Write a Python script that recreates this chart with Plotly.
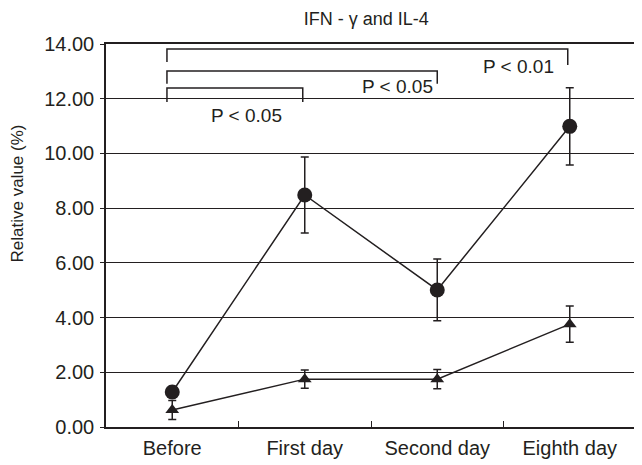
import plotly.graph_objects as go

categories = ["Before", "First day", "Second day", "Eighth day"]
ifn_values = [1.28, 8.48, 5.01, 10.99]
ifn_errors = [0.2, 1.39, 1.13, 1.41]
il4_values = [0.62, 1.75, 1.75, 3.76]
il4_errors = [0.35, 0.33, 0.35, 0.66]
y_ticks = [0, 2, 4, 6, 8, 10, 12, 14]

# significance brackets
bracket_x0 = [-0.04, -0.04, -0.04]
bracket_x1 = [2.985, 2.0, 0.985]
bracket_top = [13.82, 13.01, 12.39]
bracket_leg_left = [13.34, 12.55, 11.88]
bracket_leg_right = [13.23, 12.55, 11.88]
bracket_labels = ["P<0.01", "P<0.05", "P<0.05"]
label_x = [2.61, 1.70, 0.56]
label_y = [13.19, 12.46, 11.37]

ink = "#231f20"
FONT = "Liberation Sans, Arial, sans-serif"
x_idx = list(range(len(categories)))

fig = go.Figure()
fig.add_trace(go.Scatter(
    x=x_idx, y=ifn_values, mode="lines+markers",
    line=dict(color=ink, width=1.5),
    marker=dict(symbol="circle", size=15, color=ink),
    error_y=dict(type="data", array=ifn_errors, color=ink, thickness=1.5, width=4),
    showlegend=False))
fig.add_trace(go.Scatter(
    x=x_idx, y=il4_values, mode="lines+markers",
    line=dict(color=ink, width=1.5),
    marker=dict(symbol="triangle-up", size=12, color=ink),
    error_y=dict(type="data", array=il4_errors, color=ink, thickness=1.5, width=4),
    showlegend=False))

shapes = []
for x0, x1, top, ll, lr in zip(bracket_x0, bracket_x1, bracket_top, bracket_leg_left, bracket_leg_right):
    shapes.append(dict(type="path", xref="x", yref="y",
                       path=f"M {x0},{ll} L {x0},{top} L {x1},{top} L {x1},{lr}",
                       line=dict(color=ink, width=1.5)))

annotations = []
for txt, lx, ly in zip(bracket_labels, label_x, label_y):
    annotations.append(dict(x=lx, y=ly, xref="x", yref="y", text=txt.replace("<", " < "),
                            showarrow=False,
                            font=dict(size=19, color=ink, family=FONT)))
annotations.append(dict(x=-0.167, y=0.611, xref="paper", yref="paper",
                        text="Relative value (%)", textangle=-90, showarrow=False,
                        xanchor="center", yanchor="middle",
                        font=dict(size=17, color=ink, family=FONT)))

fig.update_layout(
    width=634, height=457,
    margin=dict(l=98, r=4, t=36, b=38),
    paper_bgcolor="white", plot_bgcolor="white",
    font=dict(family=FONT, size=20, color=ink),
    title=dict(text="IFN - γ and IL-4", x=0.565, xanchor="center", y=0.976, yanchor="middle",
               font=dict(size=18, color=ink)),
    shapes=shapes, annotations=annotations,
    xaxis=dict(range=[-0.5, 3.5], tickmode="array", tickvals=x_idx, ticktext=categories,
               ticks="", showgrid=False, zeroline=False, showline=True, linecolor=ink,
               linewidth=1.5, mirror=True, ticklabelstandoff=2,
               minor=dict(tickmode="array", tickvals=[0.5, 1.5, 2.5], ticks="inside",
                          ticklen=6, tickcolor=ink, tickwidth=1, showgrid=False)),
    yaxis=dict(range=[0, 14], tickmode="array", tickvals=y_ticks, tickformat=".2f",
               ticks="outside", ticklen=4, tickcolor=ink, showgrid=True, gridcolor=ink,
               gridwidth=1, zeroline=False, showline=True, linecolor=ink, linewidth=1.5,
               mirror=True, ticklabelstandoff=2),
)

fig.write_html("out.html")
